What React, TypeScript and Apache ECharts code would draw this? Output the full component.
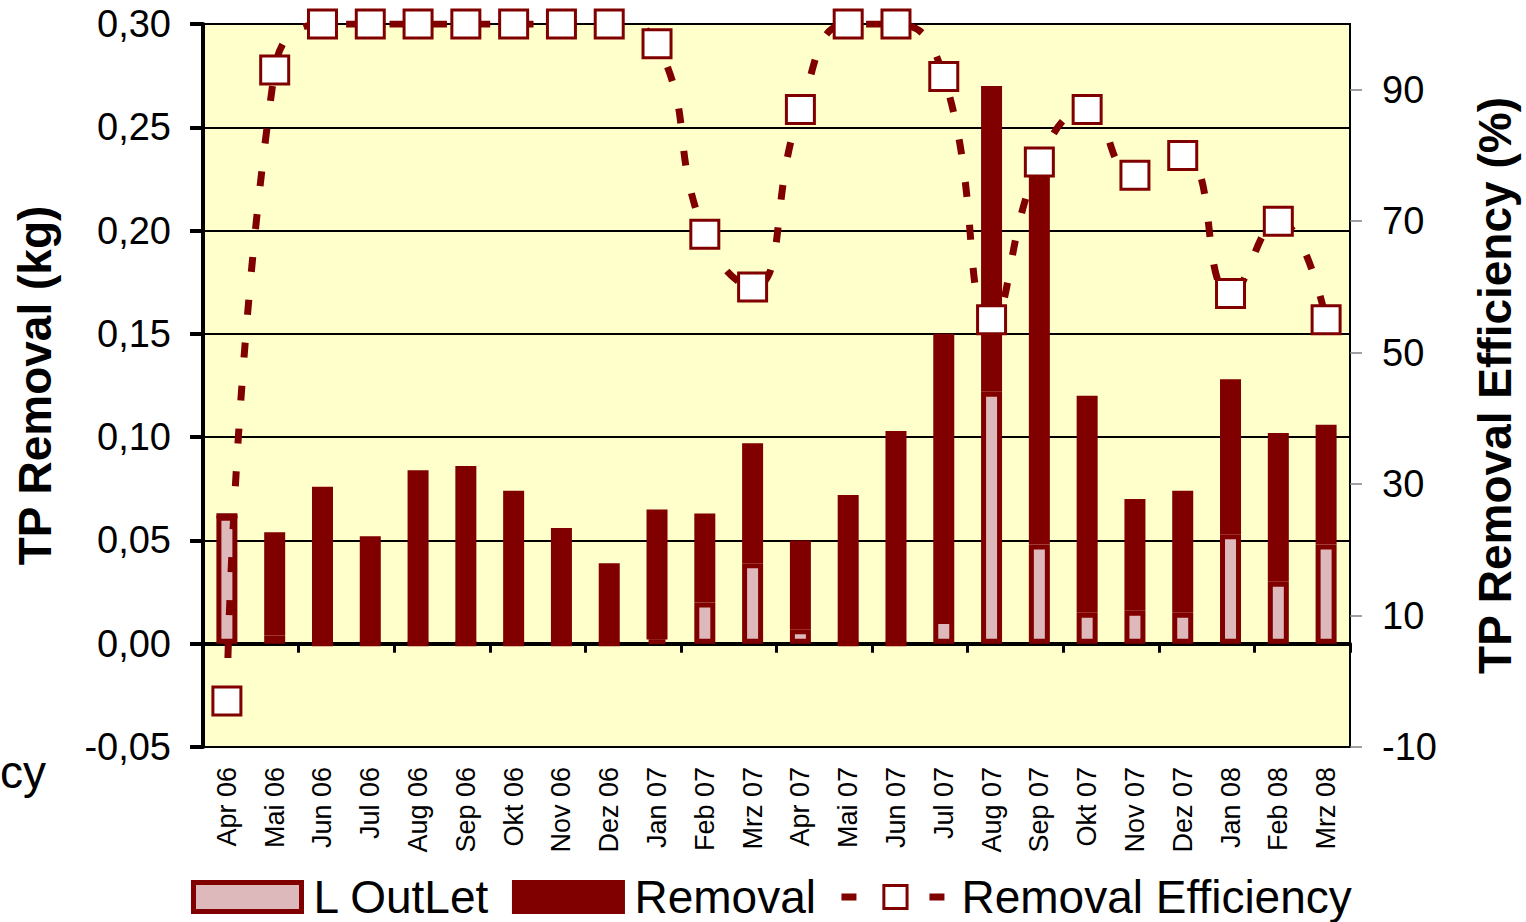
import React, { useEffect, useRef } from 'react';
import * as echarts from 'echarts';

const categories = ['Apr 06', 'Mai 06', 'Jun 06', 'Jul 06', 'Aug 06', 'Sep 06', 'Okt 06', 'Nov 06', 'Dez 06', 'Jan 07', 'Feb 07', 'Mrz 07', 'Apr 07', 'Mai 07', 'Jun 07', 'Jul 07', 'Aug 07', 'Sep 07', 'Okt 07', 'Nov 07', 'Dez 07', 'Jan 08', 'Feb 08', 'Mrz 08'];
const outletValues = [0.062, 0.004, 0, 0, 0, 0, 0, 0, 0, 0.002, 0.020, 0.039, 0.007, 0, 0, 0.012, 0.122, 0.048, 0.015, 0.016, 0.015, 0.053, 0.030, 0.048];
const removalValues = [0, 0.050, 0.076, 0.052, 0.084, 0.086, 0.074, 0.056, 0.039, 0.063, 0.043, 0.058, 0.043, 0.072, 0.103, 0.138, 0.148, 0.181, 0.105, 0.054, 0.059, 0.075, 0.072, 0.058];
const efficiencyValues = [-3, 93, 100, 100, 100, 100, 100, 100, 100, 97, 68, 60, 87, 100, 100, 92, 55, 79, 87, 77, 80, 59, 70, 55];
const rightTickValues = [-10, 10, 30, 50, 70, 90];

const FONT = '"Liberation Sans", Arial, sans-serif';
const DARK = '#800000';
const PINK = '#DEB9BB';

export default function App() {
  const ref = useRef<HTMLDivElement>(null);
  useEffect(() => {
    const chart = echarts.init(ref.current!, null, { renderer: 'svg' });
    chart.setOption({
      animation: false,
      backgroundColor: '#ffffff',
      textStyle: { fontFamily: FONT, color: '#000' },
      grid: {
        left: 203, top: 24, width: 1147, height: 723,
        show: true, backgroundColor: '#FFFFCC', borderColor: '#000', borderWidth: 2,
      },
      legend: {
        left: 186, top: 869, itemWidth: 108, itemHeight: 29, itemGap: 22,
        textStyle: { fontSize: 46, color: '#000', fontFamily: FONT, padding: [0, 0, 0, 7] },
        data: [
          { name: 'L OutLet', icon: 'rect', itemStyle: { borderWidth: 5, borderColor: DARK } },
          { name: 'Removal', icon: 'rect', itemStyle: { borderWidth: 5, borderColor: DARK } },
          {
            name: 'Removal Efficiency',
            itemStyle: { borderWidth: 3, borderColor: DARK, color: '#fff' },
            lineStyle: { width: 7, color: DARK, type: [15, 73] },
          },
        ],
      },
      xAxis: [
        {
          type: 'category', data: categories, position: 'bottom',
          axisLine: { show: false, onZero: false },
          axisTick: { show: false },
          axisLabel: { rotate: 90, margin: 20, fontSize: 27, color: '#000', interval: 0, fontFamily: FONT },
          splitLine: { show: false },
        },
        {
          type: 'category', data: categories, position: 'top',
          axisLine: { show: true, onZero: true, onZeroAxisIndex: 0, lineStyle: { color: '#000', width: 4 } },
          axisTick: { show: true, inside: true, length: 9, lineStyle: { color: '#000', width: 3 } },
          axisLabel: { show: false },
          splitLine: { show: false },
        },
      ],
      yAxis: [
        {
          type: 'value', min: -0.05, max: 0.30, interval: 0.05, position: 'left',
          axisLine: { show: true, lineStyle: { color: '#000', width: 4 } },
          axisTick: { show: true, length: 13, lineStyle: { color: '#000', width: 4 } },
          axisLabel: {
            margin: 32, fontSize: 38, color: '#000', fontFamily: FONT,
            formatter: (v: number) => v.toFixed(2).replace('.', ','),
          },
          splitLine: { show: true, lineStyle: { color: '#000', width: 2 } },
          name: 'TP Removal (kg)', nameLocation: 'middle', nameGap: 145, nameRotate: 90,
          nameTextStyle: { fontSize: 46, fontWeight: 'bold', color: '#000', fontFamily: FONT },
        },
        {
          type: 'value', min: -10, max: 100, position: 'right',
          axisLine: { show: true, lineStyle: { color: '#000', width: 2 } },
          axisTick: { show: true, length: 12, customValues: rightTickValues, lineStyle: { color: '#808080', width: 1.5 } },
          axisLabel: { margin: 32, fontSize: 38, color: '#000', customValues: rightTickValues, fontFamily: FONT },
          splitLine: { show: false },
          name: 'TP Removal Efficiency (%)', nameLocation: 'middle', nameGap: 122, nameRotate: 90,
          nameTextStyle: { fontSize: 46, fontWeight: 'bold', color: '#000', fontFamily: FONT },
        },
      ],
      series: [
        {
          name: 'L OutLet', type: 'bar', stack: 'tp', xAxisIndex: 0, yAxisIndex: 0, barWidth: 21,
          data: outletValues,
          itemStyle: { color: PINK, borderColor: DARK, borderWidth: 5 },
        },
        {
          name: 'Removal', type: 'bar', stack: 'tp', xAxisIndex: 0, yAxisIndex: 0, barWidth: 21,
          data: removalValues,
          itemStyle: { color: DARK, borderColor: DARK, borderWidth: 5 },
        },
        {
          name: 'Removal Efficiency', type: 'line', xAxisIndex: 0, yAxisIndex: 1,
          data: efficiencyValues, smooth: true, symbol: 'rect', symbolSize: 28,
          itemStyle: { color: '#fff', borderColor: DARK, borderWidth: 3 },
          lineStyle: { color: DARK, width: 7, type: [15, 28], cap: 'butt' },
          z: 5,
        },
      ],
      graphic: [
        {
          type: 'text', x: 0, y: 772,
          style: { text: 'cy', fontSize: 46, fontFamily: FONT, fill: '#000', align: 'left', verticalAlign: 'middle' },
        },
      ],
    });
    return () => chart.dispose();
  }, []);
  return <div ref={ref} style={{ position: 'absolute', left: 0, top: 0, width: 1526, height: 922, background: '#fff' }} />;
}
